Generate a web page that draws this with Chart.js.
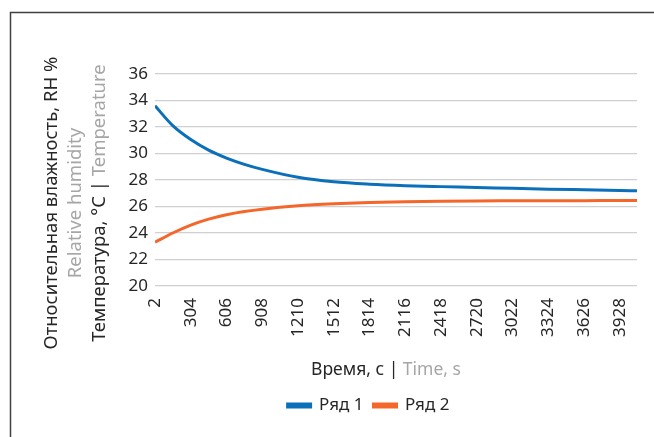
<!DOCTYPE html>
<html lang="ru">
<head>
<meta charset="utf-8"/>
<title>Ряд 1 / Ряд 2</title>
<script src="https://cdn.jsdelivr.net/npm/chart.js"></script>
<style>
  html, body { margin: 0; padding: 0; background: #fff; }
  #wrap { width: 654px; height: 437px; position: relative; }
</style>
</head>
<body>
<div id="wrap"><canvas id="grafik" width="654" height="437"></canvas></div>
<script>
// time, s
const timeSec = [2, 152, 304, 455, 606, 757, 908, 1210, 1512, 1814, 2116, 2418, 2720, 3022, 3324, 3626, 3928, 4072];
// Ряд 1 - relative humidity, RH %
const series1 = [33.6, 32.1, 31.05, 30.25, 29.65, 29.18, 28.8, 28.2, 27.86, 27.68, 27.57, 27.5, 27.44, 27.37, 27.31, 27.26, 27.21, 27.18];
// Ряд 2 - temperature, °C
const series2 = [23.3, 24.0, 24.6, 25.05, 25.38, 25.62, 25.8, 26.05, 26.2, 26.3, 26.36, 26.4, 26.42, 26.43, 26.44, 26.44, 26.45, 26.45];
const xTickLabels = [2, 304, 606, 908, 1210, 1512, 1814, 2116, 2418, 2720, 3022, 3324, 3626, 3928];

const DARK = '#262626';
const GRAY = '#a6a6a6';
const FONT = '"Noto Sans", "Open Sans", sans-serif';

function drawParts(ctx, parts, cx, cy) {
  let total = 0;
  parts.forEach(p => { ctx.font = p[2]; total += ctx.measureText(p[0]).width; });
  let x = cx - total / 2;
  parts.forEach(p => {
    ctx.font = p[2];
    ctx.fillStyle = p[1];
    ctx.fillText(p[0], x, cy);
    x += ctx.measureText(p[0]).width;
  });
}

const titles = {
  id: 'titles',
  beforeDraw(chart) {
    const ctx = chart.ctx;
    ctx.save();
    ctx.strokeStyle = '#404040';
    ctx.lineWidth = 1.5;
    ctx.beginPath();
    ctx.moveTo(10.5, 437);
    ctx.lineTo(10.5, 12.5);
    ctx.lineTo(654, 12.5);
    ctx.stroke();
    ctx.restore();
  },
  afterDraw(chart) {
    const ctx = chart.ctx;
    const f = '18.5px ' + FONT;
    ctx.save();
    ctx.textBaseline = 'middle';
    ctx.textAlign = 'left';
    // y axis titles
    ctx.save();
    ctx.translate(0, 203);
    ctx.rotate(-Math.PI / 2);
    drawParts(ctx, [['Относительная влажность, RH %', DARK, f]], 0, 52);
    drawParts(ctx, [['Relative humidity', GRAY, f]], 0, 76);
    drawParts(ctx, [['Температура, °C | ', DARK, f], ['Temperature', GRAY, f]], 0, 100);
    ctx.restore();
    // x axis title
    const fx = '17.5px ' + FONT;
    drawParts(ctx, [['Время, с | ', DARK, fx], ['Time, s', GRAY, fx]], 386, 370);
    ctx.restore();
  }
};

new Chart(document.getElementById('grafik'), {
  type: 'line',
  data: {
    datasets: [
      {
        label: 'Ряд 1',
        data: timeSec.map((t, i) => ({ x: t, y: series1[i] })),
        borderColor: '#0b6fba',
        backgroundColor: '#0b6fba',
        borderWidth: 3,
        pointRadius: 0,
        cubicInterpolationMode: 'monotone',
        fill: false
      },
      {
        label: 'Ряд 2',
        data: timeSec.map((t, i) => ({ x: t, y: series2[i] })),
        borderColor: '#f4662a',
        backgroundColor: '#f4662a',
        borderWidth: 3,
        pointRadius: 0,
        cubicInterpolationMode: 'monotone',
        fill: false
      }
    ]
  },
  options: {
    responsive: false,
    animation: false,
    layout: { padding: { left: 100, right: 17, top: 74, bottom: 13 } },
    plugins: {
      legend: {
        position: 'bottom',
        labels: {
          boxWidth: 23,
          boxHeight: 3,
          color: DARK,
          font: { family: FONT, size: 17 },
          padding: 10
        }
      },
      tooltip: { enabled: false },
      title: { display: false }
    },
    scales: {
      x: {
        type: 'linear',
        min: 2,
        max: 4072,
        afterBuildTicks: axis => { axis.ticks = xTickLabels.map(v => ({ value: v })); },
        afterFit: axis => { axis.height = 101; },
        grid: { display: false, drawTicks: false },
        border: { display: false },
        ticks: {
          autoSkip: false,
          minRotation: 90,
          maxRotation: 90,
          padding: 12,
          color: DARK,
          font: { family: FONT, size: 17 },
          callback: v => String(v)
        }
      },
      y: {
        min: 20,
        max: 36,
        afterFit: axis => { axis.width = 55; },
        grid: { color: '#d0d0d0', lineWidth: 1.2, drawTicks: false },
        border: { display: false },
        ticks: {
          stepSize: 2,
          padding: 7,
          color: DARK,
          font: { family: FONT, size: 17 }
        }
      }
    }
  },
  plugins: [titles]
});
</script>
</body>
</html>
